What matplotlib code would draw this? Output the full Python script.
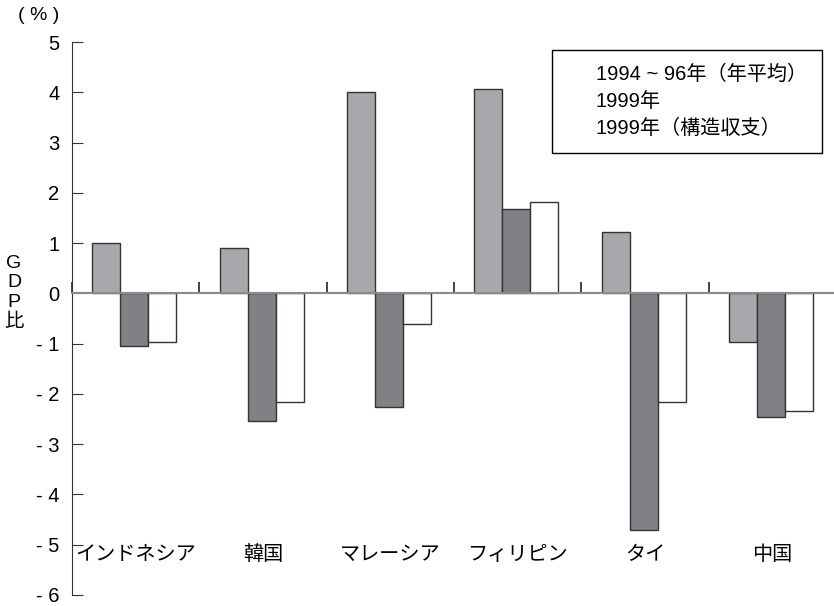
import matplotlib
matplotlib.use('Agg')
import matplotlib.pyplot as plt
import numpy as np

plt.rcParams['font.family'] = ['Liberation Sans', 'Noto Sans CJK JP', 'DejaVu Sans']
plt.rcParams['font.size'] = 14.5

# data (GDP比, %)
countries = ['インドネシア', '韓国', 'マレーシア', 'フィリピン', 'タイ', '中国']
avg_94_96 = [1.0, 0.9, 4.0, 4.07, 1.22, -0.96]
y1999 = [-1.05, -2.53, -2.27, 1.68, -4.7, -2.45]
y1999_struct = [-0.96, -2.17, -0.6, 1.81, -2.17, -2.34]
series_labels = ['1994 ~ 96年（年平均）', '1999年', '1999年（構造収支）']
yticks = [-6, -5, -4, -3, -2, -1, 0, 1, 2, 3, 4, 5]

colors = ['#a7a8ab', '#808185', '#ffffff']

fig = plt.figure(figsize=(8.34, 6.06), dpi=100)
ax = fig.add_axes([72/834, 1 - 595/606, 764/834, 553/606])

x = np.arange(len(countries)) + 0.49
w = 0.22
bars = []
for k, vals in enumerate([avg_94_96, y1999, y1999_struct]):
    b = ax.bar(x + (k - 1) * w, vals, w, color=colors[k], edgecolor='#333333', linewidth=1.0, zorder=2)
    bars.append(b)

ax.set_xlim(0, 6)
ax.set_ylim(-6, 5)

# axes styling
for s in ['top', 'right']:
    ax.spines[s].set_visible(False)
ax.spines['left'].set_color('#333333')
ax.spines['bottom'].set_position(('data', 0))
ax.spines['bottom'].set_color('#8a8a8a')
ax.spines['bottom'].set_linewidth(1.5)
ax.spines['bottom'].set_zorder(3)

ax.set_xticks(np.arange(0, 6))
ax.set_xticklabels([])
ax.tick_params(axis='x', direction='in', length=8, width=1.2, color='#222222')
ax.set_yticks(yticks)
ax.set_yticklabels([f'- {abs(v)}' if v < 0 else str(v) for v in yticks])
ax.tick_params(axis='y', direction='in', length=8, width=0.8, color='#333333', pad=9)

for xi, name in zip(x, countries):
    ax.text(xi + 0.01, -5.2, name, ha='center', va='center', fontsize=14.5)

fig.text(39/834, 1 - 16/606, '( % )', ha='center', va='center', fontsize=14)
fig.text(14/834, 1 - 293/606, 'G\nD\nP\n比', ha='center', va='center', fontsize=14, linespacing=1.2)

leg = ax.legend(bars, series_labels, loc='upper right', bbox_to_anchor=(0.9817, 0.9855),
                borderaxespad=0, fancybox=False, edgecolor='black', framealpha=1,
                handlelength=0.9, handletextpad=0.5, labelspacing=0.38, borderpad=0.75)
leg.get_frame().set_linewidth(1.0)
for h in leg.legend_handles:
    h.set_visible(False)

fig.savefig('out.png', dpi=100)
